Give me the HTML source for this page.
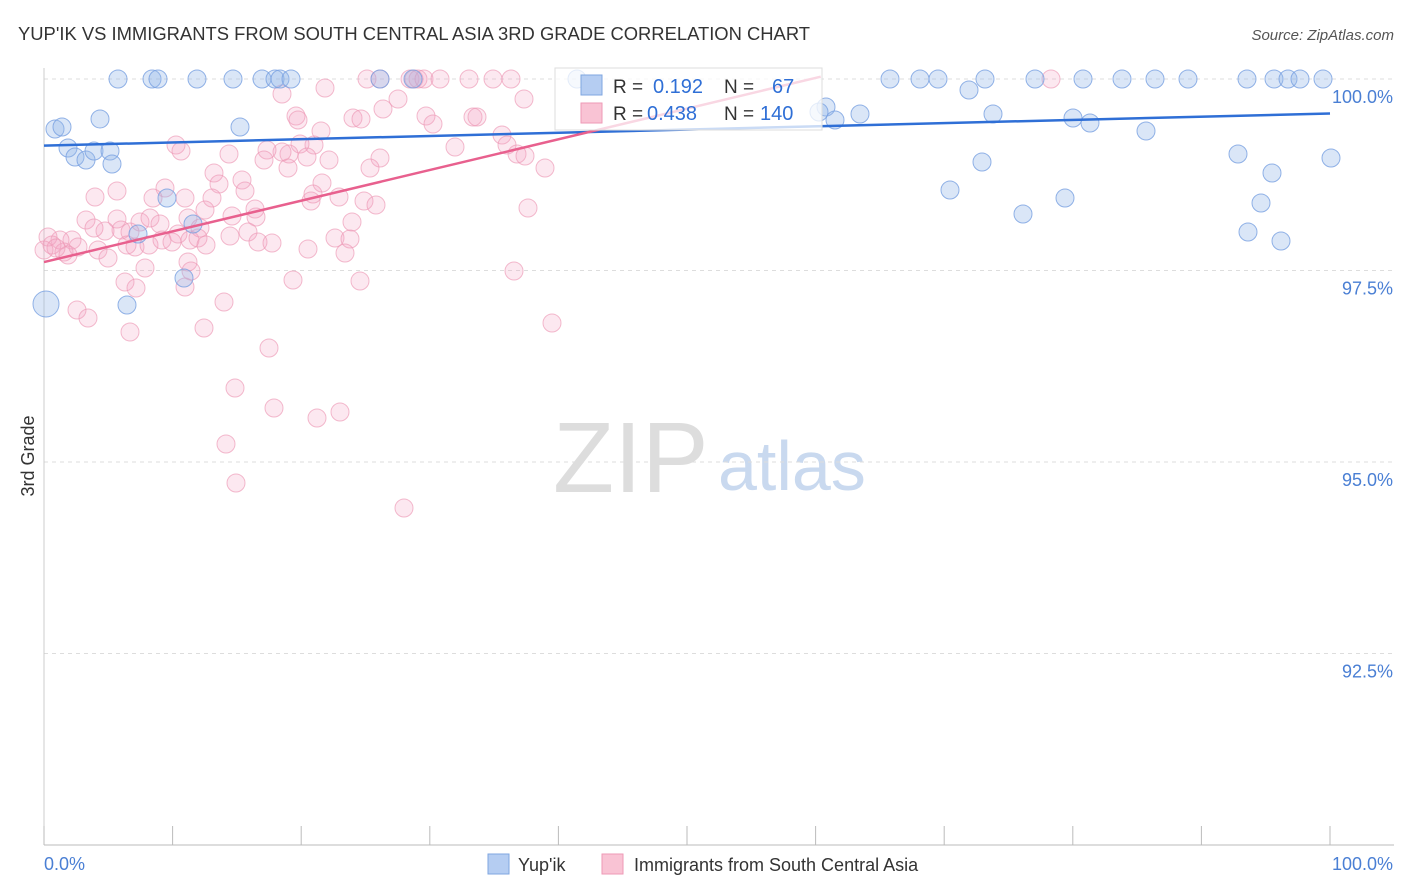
<!DOCTYPE html>
<html><head><meta charset="utf-8">
<style>
body{margin:0;background:#fff;font-family:"Liberation Sans",sans-serif;}
#wrap{position:relative;width:1406px;height:892px;overflow:hidden;}
svg text{font-family:"Liberation Sans",sans-serif;}
</style></head>
<body>
<div id="wrap">
<svg id="chart" width="1406" height="892">
<text x="18" y="40" font-size="18.4" fill="#333" textLength="792">YUP'IK VS IMMIGRANTS FROM SOUTH CENTRAL ASIA 3RD GRADE CORRELATION CHART</text>
<text x="1394" y="40" font-size="15" fill="#555" font-style="italic" text-anchor="end">Source: ZipAtlas.com</text>
<text x="34" y="456" font-size="18" fill="#333" transform="rotate(-90 34 456)" text-anchor="middle">3rd Grade</text>
<text x="553" y="492" font-size="100" fill="#ddd" font-family="Liberation Serif">ZIP</text>
<text x="718" y="490" font-size="70" fill="#c9d9ef">atlas</text>
<g id="grid"></g><g id="pts"></g><g id="trend"></g>
</svg>
</div>
<script>
const yTicks=[100,97.5,95,92.5];
const yTickLabels=["100.0%","97.5%","95.0%","92.5%"];
const xTicks=[0,10,20,30,40,50,60,70,80,90,100];
const blueTrend=[[0,99.13],[100,99.55]];
const pinkTrend=[[0,97.61],[60.4,100.03]];
const bluePx=[[118,79],[152,79],[158,79],[197,79],[233,79],[262,79],[275,79],[280,79],[291,79],[380,79],[413,79],[577,79],[826,107],[835,120],[860,114],[890,79],[920,79],[938,79],[985,79],[969,90],[993,114],[1035,79],[1083,79],[1073,118],[1090,123],[1122,79],[1155,79],[1188,79],[1146,131],[1247,79],[1274,79],[1288,79],[1300,79],[1323,79],[1331,158],[1238,154],[1272,173],[1261,203],[1248,232],[1281,241],[1065,198],[1023,214],[982,162],[950,190],[55,129],[62,127],[100,119],[240,127],[68,148],[75,157],[86,160],[94,151],[110,151],[112,164],[167,198],[193,224],[138,234],[184,278],[127,305],[46,304],[819,112]];
const pinkPx=[[367,79],[380,79],[410,79],[414,79],[418,79],[424,79],[440,79],[469,79],[493,79],[511,79],[1051,79],[325,88],[282,94],[398,99],[524,99],[383,109],[296,116],[298,120],[353,118],[361,119],[426,116],[433,124],[473,117],[477,117],[321,131],[502,135],[507,145],[517,154],[525,156],[455,147],[545,168],[380,158],[370,168],[329,160],[314,145],[300,144],[289,154],[282,152],[267,150],[264,160],[288,168],[307,157],[176,145],[181,151],[229,154],[214,173],[219,184],[242,180],[245,191],[117,191],[95,197],[165,188],[185,198],[153,198],[212,198],[205,210],[232,216],[255,209],[256,217],[311,201],[322,183],[313,194],[339,197],[364,201],[376,205],[352,222],[528,208],[86,220],[117,219],[121,230],[140,222],[150,218],[160,224],[188,218],[200,228],[178,234],[130,232],[105,231],[94,228],[72,240],[60,240],[48,237],[52,245],[64,252],[78,247],[98,250],[108,258],[127,245],[135,247],[149,245],[162,240],[172,242],[190,240],[198,238],[206,245],[230,236],[248,232],[258,242],[272,243],[308,249],[335,238],[350,239],[345,253],[188,262],[191,271],[185,287],[145,268],[125,282],[136,288],[77,310],[88,318],[130,332],[204,328],[224,302],[293,280],[360,281],[514,271],[552,323],[269,348],[235,388],[274,408],[317,418],[340,412],[226,444],[236,483],[404,508],[56,248],[68,255],[44,250]];
const X0=44,XS=12.86,Y0=79,YS=76.6;
const blueX=bluePx.map(p=>(p[0]-X0)/XS), blueY=bluePx.map(p=>100-(p[1]-Y0)/YS);
const pinkX=pinkPx.map(p=>(p[0]-X0)/XS), pinkY=pinkPx.map(p=>100-(p[1]-Y0)/YS);
const xs=v=>X0+v*XS, ys=v=>Y0+(100-v)*YS;
const NS="http://www.w3.org/2000/svg";
function mk(t,a,par){const e=document.createElementNS(NS,t);for(const k in a)e.setAttribute(k,a[k]);par.appendChild(e);return e;}
const grid=document.getElementById('grid'),pts=document.getElementById('pts'),tr=document.getElementById('trend');
yTicks.forEach((v,i)=>{
 const l=mk('line',{x1:44,x2:1394,y1:ys(v),y2:ys(v),stroke:'#ddd','stroke-dasharray':'4,4'},grid);
 
 
 const t=mk('text',{x:1393,y:ys(v)+24,'font-size':18,fill:'#4a7fd4','text-anchor':'end'},grid);
 t.textContent=yTickLabels[i];
 
 
});
const ax=mk('line',{x1:44,x2:1394,y1:845,y2:845,stroke:'#bbb'},grid);


const ay=mk('line',{x1:44,x2:44,y1:68,y2:845,stroke:'#ccc'},grid);


xTicks.forEach(v=>{const l=mk('line',{x1:xs(v),x2:xs(v),y1:826,y2:845,stroke:'#bbb'},grid);
 
 });
function dots(X,Y,fill,stroke,name){X.forEach((x,i)=>{
 let r=9; if(x<0.5&&(Y[i]<97.2||(Y[i]>97.4&&Y[i]<97.7)))r=13;
 const c=mk('circle',{cx:xs(x),cy:ys(Y[i]),r:r,fill:fill,stroke:stroke,'stroke-width':1},pts);
 
 });}
dots(pinkX,pinkY,'rgba(244,165,195,0.25)','rgba(236,150,180,0.65)','pink-point');
dots(blueX,blueY,'rgba(150,182,232,0.35)','rgba(120,160,225,0.8)','blue-point');
const bl=mk('line',{x1:xs(blueTrend[0][0]),y1:ys(blueTrend[0][1]),x2:xs(blueTrend[1][0]),y2:ys(blueTrend[1][1]),stroke:'#2f6fd6','stroke-width':2.5},tr);


const pl=mk('line',{x1:xs(pinkTrend[0][0]),y1:ys(pinkTrend[0][1]),x2:xs(pinkTrend[1][0]),y2:ys(pinkTrend[1][1]),stroke:'#e8608e','stroke-width':2.5},tr);


</script>
<svg width="1406" height="892" style="position:absolute;left:0;top:0">
<g>
<rect x="555" y="68" width="267" height="62" fill="rgba(255,255,255,0.75)" stroke="#ddd"/>
<rect x="581" y="75" width="21" height="20" fill="#b5cdf2" stroke="#7fa6e0"/>
<rect x="581" y="103" width="21" height="20" fill="#f9c3d4" stroke="#ee9ab6"/>
<text x="613" y="93" font-size="19" fill="#333">R =</text><text x="653" y="93" font-size="20" fill="#2f6fd6">0.192</text>
<text x="724" y="93" font-size="19" fill="#333">N =</text><text x="772" y="93" font-size="20" fill="#2f6fd6">67</text>
<text x="613" y="120" font-size="19" fill="#333">R =</text><text x="647" y="120" font-size="20" fill="#2f6fd6">0.438</text>
<text x="724" y="120" font-size="19" fill="#333">N =</text><text x="760" y="120" font-size="20" fill="#2f6fd6">140</text>
</g>
<text x="44" y="870" font-size="18" fill="#4a7fd4">0.0%</text>
<text x="1393" y="870" font-size="18" fill="#4a7fd4" text-anchor="end">100.0%</text>
<g><rect x="488" y="854" width="21" height="20" fill="#b5cdf2" stroke="#7fa6e0"/><text x="518" y="871" font-size="18" fill="#333">Yup'ik</text></g>
<g><rect x="602" y="854" width="21" height="20" fill="#f9c3d4" stroke="#ee9ab6"/><text x="634" y="871" font-size="18" fill="#333">Immigrants from South Central Asia</text></g>
</svg>
</body></html>
